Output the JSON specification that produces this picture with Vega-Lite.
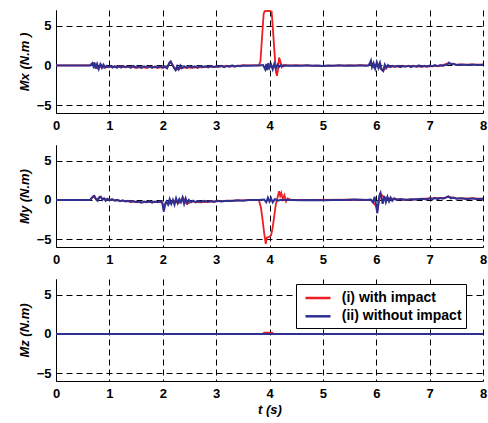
{
  "$schema": "https://vega.github.io/schema/vega-lite/v6.json",
  "background": "white",
  "padding": {"left": 18, "top": 7, "right": 4, "bottom": 2},
  "spacing": 13,
  "config": {
    "font": "Liberation Sans",
    "view": {"stroke": null},
    "axis": {
      "labelFont": "Liberation Sans", "labelFontWeight": "bold", "labelFontSize": 13, "labelColor": "black",
      "titleFont": "Liberation Sans", "titleFontWeight": "bold", "titleFontStyle": "italic", "titleFontSize": 13, "titleColor": "black",
      "domainColor": "black", "domainWidth": 1, "ticks": false, "labelPadding": 5,
      "grid": true, "gridColor": "black", "gridDash": [6, 4], "gridOpacity": 1, "gridWidth": 1
    },
    "axisX": {"labelPadding": 6},
    "legend": {
      "labelFont": "Liberation Sans", "labelFontWeight": "bold", "labelFontSize": 14, "labelColor": "black"
    }
  },
  "datasets": {
    "mx_i": [
      {"t":0,"v":0},{"t":0.64,"v":0},{"t":0.68,"v":0.25},{"t":0.72,"v":0.3},{"t":0.76,"v":-0.35},{"t":0.8,"v":-0.4},{"t":0.85,"v":0.1},{"t":0.9,"v":-0.3},{"t":1.0,"v":-0.15},{"t":1.1,"v":-0.2},{"t":1.2,"v":-0.1},{"t":1.3,"v":-0.25},{"t":1.4,"v":-0.15},{"t":1.5,"v":-0.3},{"t":1.6,"v":-0.2},{"t":1.7,"v":-0.3},{"t":1.8,"v":-0.15},{"t":1.9,"v":-0.3},{"t":2.0,"v":-0.2},{"t":2.08,"v":-0.3},{"t":2.14,"v":0.45},{"t":2.2,"v":-0.1},{"t":2.25,"v":-0.55},{"t":2.3,"v":-0.4},{"t":2.36,"v":-0.3},{"t":2.45,"v":-0.25},{"t":2.55,"v":-0.3},{"t":2.65,"v":-0.2},{"t":2.75,"v":-0.25},{"t":2.85,"v":-0.15},{"t":2.95,"v":-0.2},{"t":3.1,"v":-0.1},{"t":3.3,"v":-0.1},{"t":3.5,"v":0},{"t":3.7,"v":0},{"t":3.8,"v":0},{"t":3.83,"v":0.5},{"t":3.86,"v":3.5},{"t":3.89,"v":6.5},{"t":3.91,"v":6.85},{"t":4.0,"v":6.9},{"t":4.04,"v":6.8},{"t":4.06,"v":5.0},{"t":4.09,"v":2.0},{"t":4.12,"v":-0.8},{"t":4.14,"v":-1.3},{"t":4.16,"v":-0.5},{"t":4.18,"v":1.0},{"t":4.2,"v":0.6},{"t":4.23,"v":-0.2},{"t":4.27,"v":0.1},{"t":4.32,"v":0},{"t":4.5,"v":0},{"t":5.0,"v":-0.05},{"t":5.5,"v":0},{"t":5.85,"v":0},{"t":5.9,"v":0.5},{"t":5.96,"v":-0.3},{"t":6.02,"v":0.3},{"t":6.08,"v":-0.4},{"t":6.13,"v":-0.65},{"t":6.2,"v":-0.2},{"t":6.3,"v":-0.1},{"t":6.5,"v":-0.15},{"t":6.6,"v":-0.05},{"t":6.8,"v":-0.15},{"t":7.0,"v":-0.1},{"t":7.2,"v":-0.05},{"t":7.36,"v":0.3},{"t":7.5,"v":0.1},{"t":7.7,"v":0.1},{"t":8,"v":0.1}
    ],
    "mx_ii": [
      {"t":0,"v":0},{"t":0.64,"v":0},{"t":0.68,"v":0.3},{"t":0.7,"v":-0.1},{"t":0.72,"v":0.35},{"t":0.74,"v":-0.4},{"t":0.77,"v":0.2},{"t":0.8,"v":-0.45},{"t":0.83,"v":0.15},{"t":0.86,"v":-0.3},{"t":0.89,"v":0.1},{"t":0.92,"v":-0.25},{"t":0.95,"v":-0.05},{"t":0.98,"v":-0.2},{"t":1.02,"v":-0.05},{"t":1.06,"v":-0.25},{"t":1.1,"v":-0.1},{"t":1.14,"v":-0.3},{"t":1.18,"v":-0.1},{"t":1.22,"v":-0.25},{"t":1.26,"v":-0.05},{"t":1.3,"v":-0.2},{"t":1.35,"v":-0.1},{"t":1.4,"v":-0.3},{"t":1.45,"v":-0.05},{"t":1.5,"v":-0.25},{"t":1.55,"v":-0.15},{"t":1.6,"v":-0.3},{"t":1.65,"v":-0.1},{"t":1.7,"v":-0.25},{"t":1.75,"v":-0.1},{"t":1.8,"v":-0.3},{"t":1.85,"v":-0.15},{"t":1.9,"v":-0.25},{"t":1.95,"v":-0.1},{"t":2.0,"v":-0.3},{"t":2.04,"v":-0.1},{"t":2.08,"v":-0.35},{"t":2.12,"v":0.3},{"t":2.15,"v":0.5},{"t":2.18,"v":0.1},{"t":2.21,"v":-0.3},{"t":2.24,"v":-0.6},{"t":2.27,"v":-0.1},{"t":2.3,"v":-0.5},{"t":2.33,"v":0.0},{"t":2.36,"v":-0.35},{"t":2.4,"v":-0.1},{"t":2.45,"v":-0.3},{"t":2.5,"v":-0.05},{"t":2.55,"v":-0.25},{"t":2.6,"v":-0.1},{"t":2.65,"v":-0.3},{"t":2.7,"v":-0.05},{"t":2.75,"v":-0.2},{"t":2.8,"v":-0.1},{"t":2.85,"v":-0.25},{"t":2.9,"v":-0.05},{"t":2.95,"v":-0.2},{"t":3.0,"v":-0.1},{"t":3.05,"v":-0.15},{"t":3.1,"v":-0.05},{"t":3.15,"v":-0.2},{"t":3.2,"v":-0.05},{"t":3.25,"v":-0.15},{"t":3.3,"v":0.0},{"t":3.35,"v":-0.15},{"t":3.4,"v":-0.05},{"t":3.45,"v":-0.1},{"t":3.5,"v":0.0},{"t":3.6,"v":-0.05},{"t":3.7,"v":0.0},{"t":3.8,"v":0.0},{"t":3.88,"v":0.05},{"t":3.92,"v":-0.5},{"t":3.94,"v":0.2},{"t":3.96,"v":-0.6},{"t":3.98,"v":0.3},{"t":4.0,"v":-0.3},{"t":4.03,"v":0.1},{"t":4.06,"v":-0.5},{"t":4.09,"v":0.2},{"t":4.12,"v":-0.4},{"t":4.15,"v":0.1},{"t":4.18,"v":-0.2},{"t":4.22,"v":0.05},{"t":4.26,"v":-0.1},{"t":4.3,"v":0.0},{"t":4.4,"v":-0.05},{"t":4.5,"v":0.0},{"t":4.6,"v":-0.05},{"t":4.7,"v":0.02},{"t":4.8,"v":-0.05},{"t":4.9,"v":0.0},{"t":5.0,"v":-0.06},{"t":5.1,"v":0.0},{"t":5.2,"v":-0.05},{"t":5.3,"v":0.02},{"t":5.4,"v":-0.05},{"t":5.5,"v":0.0},{"t":5.6,"v":-0.04},{"t":5.7,"v":0.02},{"t":5.8,"v":-0.03},{"t":5.85,"v":0.0},{"t":5.87,"v":0.1},{"t":5.9,"v":0.6},{"t":5.92,"v":-0.2},{"t":5.95,"v":0.3},{"t":5.98,"v":-0.4},{"t":6.01,"v":0.4},{"t":6.04,"v":-0.3},{"t":6.07,"v":0.35},{"t":6.1,"v":-0.5},{"t":6.13,"v":-0.7},{"t":6.16,"v":0.1},{"t":6.19,"v":-0.3},{"t":6.22,"v":0.05},{"t":6.26,"v":-0.2},{"t":6.3,"v":-0.05},{"t":6.35,"v":-0.15},{"t":6.4,"v":-0.05},{"t":6.45,"v":-0.2},{"t":6.5,"v":-0.05},{"t":6.55,"v":-0.15},{"t":6.6,"v":-0.05},{"t":6.65,"v":-0.2},{"t":6.7,"v":-0.05},{"t":6.75,"v":-0.15},{"t":6.8,"v":0.0},{"t":6.85,"v":-0.15},{"t":6.9,"v":-0.05},{"t":6.95,"v":-0.15},{"t":7.0,"v":0.0},{"t":7.05,"v":-0.1},{"t":7.1,"v":0.05},{"t":7.15,"v":-0.1},{"t":7.2,"v":0.05},{"t":7.25,"v":-0.05},{"t":7.3,"v":0.1},{"t":7.33,"v":0.1},{"t":7.36,"v":0.35},{"t":7.4,"v":0.15},{"t":7.45,"v":0.2},{"t":7.5,"v":0.05},{"t":7.6,"v":0.12},{"t":7.7,"v":0.05},{"t":7.8,"v":0.12},{"t":7.9,"v":0.05},{"t":8,"v":0.1}
    ],
    "my_i": [
      {"t":0,"v":0},{"t":0.64,"v":0},{"t":0.7,"v":0.5},{"t":0.76,"v":0.0},{"t":0.82,"v":0.4},{"t":0.88,"v":0.1},{"t":0.95,"v":0.1},{"t":1.05,"v":0.0},{"t":1.2,"v":-0.1},{"t":1.4,"v":-0.2},{"t":1.6,"v":-0.3},{"t":1.8,"v":-0.25},{"t":1.99,"v":-0.3},{"t":2.02,"v":-1.3},{"t":2.06,"v":-0.3},{"t":2.12,"v":-0.5},{"t":2.2,"v":-0.1},{"t":2.3,"v":-0.4},{"t":2.38,"v":0.3},{"t":2.45,"v":-0.5},{"t":2.55,"v":-0.2},{"t":2.7,"v":-0.3},{"t":2.9,"v":-0.2},{"t":3.1,"v":-0.15},{"t":3.3,"v":-0.1},{"t":3.5,"v":-0.05},{"t":3.8,"v":0},{"t":3.84,"v":-1.0},{"t":3.87,"v":-2.5},{"t":3.9,"v":-4.2},{"t":3.93,"v":-5.6},{"t":3.95,"v":-4.8},{"t":4.0,"v":-4.7},{"t":4.03,"v":-4.5},{"t":4.06,"v":-3.5},{"t":4.09,"v":-2.0},{"t":4.12,"v":-0.5},{"t":4.15,"v":0.3},{"t":4.18,"v":1.1},{"t":4.2,"v":0.5},{"t":4.22,"v":0.9},{"t":4.25,"v":0.1},{"t":4.28,"v":0.6},{"t":4.31,"v":-0.2},{"t":4.34,"v":0.2},{"t":4.4,"v":0},{"t":4.8,"v":0},{"t":5.5,"v":0.05},{"t":5.9,"v":0},{"t":6.0,"v":-0.8},{"t":6.02,"v":-1.4},{"t":6.08,"v":0.8},{"t":6.15,"v":0.3},{"t":6.25,"v":0.2},{"t":6.4,"v":0.1},{"t":6.6,"v":0.05},{"t":7.0,"v":0.2},{"t":7.3,"v":0.3},{"t":7.35,"v":0.4},{"t":7.5,"v":0.2},{"t":7.7,"v":0.2},{"t":8,"v":0.15}
    ],
    "my_ii": [
      {"t":0,"v":0},{"t":0.64,"v":0},{"t":0.68,"v":0.3},{"t":0.72,"v":0.5},{"t":0.75,"v":0.1},{"t":0.78,"v":-0.1},{"t":0.81,"v":0.3},{"t":0.84,"v":0.4},{"t":0.87,"v":0.0},{"t":0.9,"v":0.2},{"t":0.93,"v":-0.1},{"t":0.96,"v":0.15},{"t":1.0,"v":-0.05},{"t":1.05,"v":0.1},{"t":1.1,"v":-0.1},{"t":1.15,"v":0.0},{"t":1.2,"v":-0.15},{"t":1.25,"v":-0.05},{"t":1.3,"v":-0.2},{"t":1.35,"v":-0.1},{"t":1.4,"v":-0.25},{"t":1.45,"v":-0.15},{"t":1.5,"v":-0.3},{"t":1.55,"v":-0.2},{"t":1.6,"v":-0.35},{"t":1.65,"v":-0.2},{"t":1.7,"v":-0.3},{"t":1.75,"v":-0.15},{"t":1.8,"v":-0.35},{"t":1.85,"v":-0.2},{"t":1.9,"v":-0.3},{"t":1.95,"v":-0.15},{"t":1.99,"v":-0.3},{"t":2.02,"v":-1.5},{"t":2.04,"v":-0.6},{"t":2.07,"v":-0.2},{"t":2.1,"v":-0.6},{"t":2.13,"v":0.1},{"t":2.16,"v":-0.5},{"t":2.19,"v":0.0},{"t":2.22,"v":-0.6},{"t":2.25,"v":0.2},{"t":2.28,"v":-0.4},{"t":2.31,"v":0.1},{"t":2.34,"v":-0.3},{"t":2.37,"v":0.3},{"t":2.4,"v":-0.5},{"t":2.43,"v":0.2},{"t":2.46,"v":-0.4},{"t":2.49,"v":0.0},{"t":2.53,"v":-0.3},{"t":2.57,"v":-0.1},{"t":2.62,"v":-0.3},{"t":2.67,"v":-0.15},{"t":2.72,"v":-0.25},{"t":2.78,"v":-0.1},{"t":2.84,"v":-0.25},{"t":2.9,"v":-0.15},{"t":2.96,"v":-0.25},{"t":3.02,"v":-0.1},{"t":3.1,"v":-0.2},{"t":3.2,"v":-0.1},{"t":3.3,"v":-0.15},{"t":3.4,"v":-0.05},{"t":3.5,"v":-0.1},{"t":3.6,"v":0},{"t":3.8,"v":0},{"t":3.9,"v":0.05},{"t":3.94,"v":-0.3},{"t":3.97,"v":0.3},{"t":4.0,"v":-0.2},{"t":4.03,"v":0.2},{"t":4.06,"v":-0.3},{"t":4.1,"v":0.1},{"t":4.15,"v":-0.1},{"t":4.2,"v":0},{"t":4.4,"v":0.0},{"t":4.6,"v":-0.05},{"t":4.8,"v":0},{"t":5.0,"v":-0.05},{"t":5.2,"v":0},{"t":5.4,"v":0.0},{"t":5.6,"v":0.05},{"t":5.8,"v":0.0},{"t":5.9,"v":0.05},{"t":5.94,"v":-0.3},{"t":5.97,"v":0.4},{"t":6.0,"v":-0.8},{"t":6.02,"v":-1.7},{"t":6.04,"v":-0.2},{"t":6.06,"v":0.6},{"t":6.08,"v":0.9},{"t":6.1,"v":0.2},{"t":6.12,"v":-0.5},{"t":6.15,"v":0.5},{"t":6.18,"v":-0.3},{"t":6.21,"v":0.4},{"t":6.24,"v":-0.2},{"t":6.27,"v":0.3},{"t":6.3,"v":-0.1},{"t":6.34,"v":0.2},{"t":6.38,"v":0.0},{"t":6.45,"v":0.1},{"t":6.55,"v":0.0},{"t":6.65,"v":0.1},{"t":6.75,"v":0.05},{"t":6.85,"v":0.15},{"t":6.95,"v":0.05},{"t":7.0,"v":0.2},{"t":7.05,"v":0.1},{"t":7.1,"v":0.25},{"t":7.15,"v":0.1},{"t":7.2,"v":0.25},{"t":7.25,"v":0.15},{"t":7.3,"v":0.3},{"t":7.35,"v":0.45},{"t":7.4,"v":0.2},{"t":7.45,"v":0.3},{"t":7.5,"v":0.15},{"t":7.6,"v":0.2},{"t":7.7,"v":0.1},{"t":7.8,"v":0.2},{"t":7.9,"v":0.1},{"t":8,"v":0.15}
    ],
    "mz_i": [
      {"t":0,"v":0},{"t":3.88,"v":0},{"t":3.9,"v":0.15},{"t":4.05,"v":0.15},{"t":4.07,"v":0},{"t":8,"v":0}
    ],
    "mz_ii": [
      {"t":0,"v":0},{"t":8,"v":0}
    ]
  },
  "resolve": {"scale": {"color": "independent"}, "legend": {"color": "independent"}},
  "vconcat": [
    {
      "width": 427, "height": 103,
      "encoding": {
        "x": {"field": "t", "type": "quantitative", "scale": {"domain": [0, 8], "nice": false}, "axis": {"title": null, "values": [0,1,2,3,4,5,6,7,8], "labelFlush": false}},
        "y": {"field": "v", "type": "quantitative", "scale": {"domain": [-6, 7], "nice": false}, "axis": {"title": "Mx (N.m )", "values": [-5, 0, 5], "titlePadding": 5}}
      },
      "layer": [
        {"data": {"name": "mx_i"}, "mark": {"type": "line", "strokeWidth": 1.8}, "encoding": {"color": {"datum": "(i) with impact", "scale": {"domain": ["(i) with impact", "(ii) without impact"], "range": ["#ee1d23", "#2e3192"]}, "legend": null}}},
        {"data": {"name": "mx_ii"}, "mark": {"type": "line", "strokeWidth": 2}, "encoding": {"color": {"datum": "(ii) without impact", "legend": null}}}
      ]
    },
    {
      "width": 427, "height": 102,
      "encoding": {
        "x": {"field": "t", "type": "quantitative", "scale": {"domain": [0, 8], "nice": false}, "axis": {"title": null, "values": [0,1,2,3,4,5,6,7,8], "labelFlush": false}},
        "y": {"field": "v", "type": "quantitative", "scale": {"domain": [-6, 7], "nice": false}, "axis": {"title": "My (N.m)", "values": [-5, 0, 5], "titlePadding": 5}}
      },
      "layer": [
        {"data": {"name": "my_i"}, "mark": {"type": "line", "strokeWidth": 1.8}, "encoding": {"color": {"datum": "(i) with impact", "scale": {"domain": ["(i) with impact", "(ii) without impact"], "range": ["#ee1d23", "#2e3192"]}, "legend": null}}},
        {"data": {"name": "my_ii"}, "mark": {"type": "line", "strokeWidth": 2}, "encoding": {"color": {"datum": "(ii) without impact", "legend": null}}}
      ]
    },
    {
      "width": 427, "height": 102,
      "encoding": {
        "x": {"field": "t", "type": "quantitative", "scale": {"domain": [0, 8], "nice": false}, "axis": {"title": "t (s)", "titlePadding": 3, "values": [0,1,2,3,4,5,6,7,8], "labelFlush": false}},
        "y": {"field": "v", "type": "quantitative", "scale": {"domain": [-6, 7], "nice": false}, "axis": {"title": "Mz (N.m)", "values": [-5, 0, 5], "titlePadding": 5}}
      },
      "layer": [
        {"data": {"name": "mz_i"}, "mark": {"type": "line", "strokeWidth": 1.8}, "encoding": {"color": {"datum": "(i) with impact", "scale": {"domain": ["(i) with impact", "(ii) without impact"], "range": ["#ee1d23", "#2e3192"]},
          "legend": {"title": null, "orient": "none", "legendX": 240, "legendY": 5, "strokeColor": "black", "fillColor": "white", "padding": 4, "symbolType": "M-1.5,0H1.5", "symbolSize": 279, "symbolStrokeWidth": 2.5, "symbolOffset": 8, "labelOffset": 13.8, "rowPadding": 1.3, "labelExpr": "datum.label + '\u2002\u2002'"}}}},
        {"data": {"name": "mz_ii"}, "mark": {"type": "line", "strokeWidth": 2}, "encoding": {"color": {"datum": "(ii) without impact"}}}
      ]
    }
  ]
}
